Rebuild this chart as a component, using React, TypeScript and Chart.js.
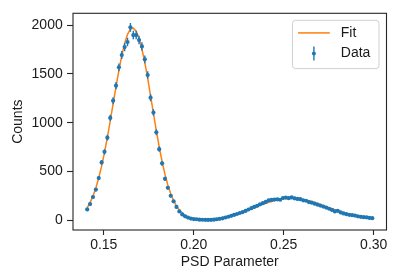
import React, { useEffect, useRef } from "react";
import { Chart, registerables } from "chart.js";

Chart.register(...registerables);

const binCenters = [
  0.1408, 0.1424, 0.1440, 0.1456, 0.1472, 0.1488, 0.1504, 0.1520, 0.1536, 0.1552,
  0.1568, 0.1584, 0.1600, 0.1616, 0.1632, 0.1648, 0.1664, 0.1680, 0.1696, 0.1712,
  0.1728, 0.1744, 0.1760, 0.1776, 0.1792, 0.1808, 0.1824, 0.1840, 0.1856, 0.1872,
  0.1888, 0.1904, 0.1920, 0.1936, 0.1952, 0.1968, 0.1984, 0.2000, 0.2016, 0.2032,
  0.2048, 0.2064, 0.2080, 0.2096, 0.2112, 0.2128, 0.2144, 0.2160, 0.2176, 0.2192,
  0.2208, 0.2224, 0.2240, 0.2256, 0.2272, 0.2288, 0.2304, 0.2320, 0.2336, 0.2352,
  0.2368, 0.2384, 0.2400, 0.2416, 0.2432, 0.2448, 0.2464, 0.2480, 0.2496, 0.2512,
  0.2528, 0.2544, 0.2560, 0.2576, 0.2592, 0.2608, 0.2624, 0.2640, 0.2656, 0.2672,
  0.2688, 0.2704, 0.2720, 0.2736, 0.2752, 0.2768, 0.2784, 0.2800, 0.2816, 0.2832,
  0.2848, 0.2864, 0.2880, 0.2896, 0.2912, 0.2928, 0.2944, 0.2960, 0.2976, 0.2992,
];

const dataCounts = [
  111, 166, 238, 314, 432, 593, 701, 846, 1049, 1225,
  1379, 1567, 1693, 1775, 1827, 1977, 1898, 1898, 1847, 1782,
  1649, 1488, 1256, 1104, 902, 728, 583, 425, 333, 251,
  194, 137, 90, 60, 40, 27, 17, 12, 10, 6,
  5, 4, 3, 4, 6, 10, 15, 20, 28, 36,
  45, 55, 64, 74, 84, 95, 110, 124, 136, 148,
  163, 175, 188, 204, 208, 212, 214, 210, 228, 232,
  226, 234, 225, 219, 216, 204, 200, 186, 180, 170,
  160, 150, 140, 130, 118, 106, 90, 97, 80, 70,
  62, 56, 52, 48, 40, 35, 31, 30, 24, 21,
];

const dataErrors = [
  10.5, 12.9, 15.4, 17.7, 20.8, 24.4, 26.5, 29.1, 32.4, 35.0,
  37.1, 39.6, 41.1, 42.1, 42.7, 44.5, 43.6, 43.6, 43.0, 42.2,
  40.6, 38.6, 35.4, 33.2, 30.0, 27.0, 24.1, 20.6, 18.2, 15.8,
  13.9, 11.7, 9.5, 7.7, 6.3, 5.2, 4.1, 3.5, 3.2, 2.4,
  2.2, 2.0, 1.7, 2.0, 2.4, 3.2, 3.9, 4.5, 5.3, 6.0,
  6.7, 7.4, 8.0, 8.6, 9.2, 9.7, 10.5, 11.1, 11.7, 12.2,
  12.8, 13.2, 13.7, 14.3, 14.4, 14.6, 14.6, 14.5, 15.1, 15.2,
  15.0, 15.3, 15.0, 14.8, 14.7, 14.3, 14.1, 13.6, 13.4, 13.0,
  12.6, 12.2, 11.8, 11.4, 10.9, 10.3, 9.5, 9.8, 8.9, 8.4,
  7.9, 7.5, 7.2, 6.9, 6.3, 5.9, 5.6, 5.5, 4.9, 4.6,
];

const fitCounts = [
  129, 181, 247, 331, 433, 554, 694, 850, 1019, 1195,
  1370, 1537, 1688, 1813, 1905, 1958, 1969, 1937, 1864, 1755,
  1615, 1456, 1275, 1095, 918, 752, 602, 470, 362, 272,
  202, 146, 104, 72, 50, 34, 24, 17, 13, 10,
  9, 10, 11, 12, 15, 19, 23, 28, 34, 41,
  48, 56, 65, 74, 84, 95, 106, 118, 129, 141,
  152, 163, 174, 184, 193, 201, 208, 214, 219, 223,
  225, 225, 224, 221, 218, 212, 206, 199, 190, 181,
  171, 161, 150, 139, 128, 117, 107, 97, 87, 77,
  69, 61, 53, 46, 40, 34, 29, 25, 21, 18,
];

const xTicks = [0.15, 0.2, 0.25, 0.3];
const xTickLabels = ["0.15", "0.20", "0.25", "0.30"];
const yTicks = [0, 500, 1000, 1500, 2000];
const yTickLabels = ["0", "500", "1000", "1500", "2000"];

const BLUE = "#1f77b4";
const ORANGE = "#ff7f0e";
const TEXT = "#1a1a1a";
const FONT = "'Liberation Sans', Arial, sans-serif";

const errorBarPlugin = {
  id: "errorBars",
  beforeDatasetDraw(chart: any, args: any) {
    if (args.index !== 0) return;
    const { ctx, scales } = chart;
    const xs = scales.x;
    const ys = scales.y;
    ctx.save();
    ctx.strokeStyle = BLUE;
    ctx.lineWidth = 1.4;
    ctx.beginPath();
    for (let i = 0; i < dataCounts.length; i++) {
      const px = xs.getPixelForValue(binCenters[i]);
      ctx.moveTo(px, ys.getPixelForValue(dataCounts[i] - dataErrors[i]));
      ctx.lineTo(px, ys.getPixelForValue(dataCounts[i] + dataErrors[i]));
    }
    ctx.stroke();
    ctx.restore();
  },
};

const framePlugin = {
  id: "frameAndLegend",
  afterDraw(chart: any) {
    const { ctx, chartArea } = chart;
    const { left, top, right, bottom } = chartArea;
    ctx.save();
    ctx.strokeStyle = "#262626";
    ctx.lineWidth = 1.1;
    ctx.strokeRect(left, top, right - left, bottom - top);

    // legend
    const lx = right - 7.5 - 86.5;
    const ly = top + 7;
    const lw = 86.5;
    const lh = 48.3;
    ctx.beginPath();
    if (ctx.roundRect) ctx.roundRect(lx, ly, lw, lh, 3);
    else ctx.rect(lx, ly, lw, lh);
    ctx.fillStyle = "rgba(255,255,255,0.8)";
    ctx.fill();
    ctx.strokeStyle = "#d0d0d0";
    ctx.lineWidth = 1;
    ctx.stroke();

    const r1 = ly + 12.6;
    const r2 = ly + 33.3;
    ctx.strokeStyle = ORANGE;
    ctx.lineWidth = 1.5;
    ctx.beginPath();
    ctx.moveTo(lx + 5.6, r1);
    ctx.lineTo(lx + 37.3, r1);
    ctx.stroke();

    const mx = lx + 21.4;
    ctx.strokeStyle = BLUE;
    ctx.lineWidth = 1.4;
    ctx.beginPath();
    ctx.moveTo(mx, r2 - 7);
    ctx.lineTo(mx, r2 + 7);
    ctx.stroke();
    ctx.fillStyle = BLUE;
    ctx.beginPath();
    ctx.arc(mx, r2, 2, 0, Math.PI * 2);
    ctx.fill();

    ctx.fillStyle = TEXT;
    ctx.font = `14px ${FONT}`;
    ctx.textBaseline = "middle";
    ctx.textAlign = "left";
    ctx.fillText("Fit", lx + 48.3, r1);
    ctx.fillText("Data", lx + 48.3, r2);
    ctx.restore();
  },
};

export default function App() {
  const ref = useRef<HTMLCanvasElement | null>(null);
  useEffect(() => {
    if (!ref.current) return;
    const chart = new Chart(ref.current, {
      type: "scatter",
      data: {
        datasets: [
          {
            label: "Data",
            data: binCenters.map((x, i) => ({ x, y: dataCounts[i] })),
            showLine: false,
            pointRadius: 2.1,
            pointBackgroundColor: BLUE,
            pointBorderWidth: 0,
            borderColor: BLUE,
            order: 0,
          },
          {
            label: "Fit",
            data: binCenters.map((x, i) => ({ x, y: fitCounts[i] })),
            showLine: true,
            pointRadius: 0,
            borderColor: ORANGE,
            borderWidth: 1.5,
            tension: 0,
            order: 1,
          },
        ],
      },
      options: {
        animation: false,
        responsive: false,
        devicePixelRatio: 1,
        layout: { padding: { left: 0, right: 20.5, top: 13.3, bottom: 0 } },
        plugins: {
          legend: { display: false },
          tooltip: { enabled: false },
        },
        scales: {
          x: {
            type: "linear",
            min: 0.1329,
            max: 0.3071,
            afterFit: (s: any) => {
              s.height = 41;
            },
            afterBuildTicks: (s: any) => {
              s.ticks = xTicks.map((v) => ({ value: v }));
            },
            ticks: {
              callback: (v: any) => xTickLabels[xTicks.indexOf(Number(v))] ?? "",
              color: TEXT,
              font: { family: FONT, size: 14 },
              padding: 2,
              maxRotation: 0,
              autoSkip: false,
            },
            grid: {
              drawOnChartArea: false,
              drawTicks: true,
              tickLength: 5,
              tickWidth: 1.1,
              tickColor: "#262626",
            },
            border: { display: false },
            title: {
              display: true,
              text: "PSD Parameter",
              color: TEXT,
              font: { family: FONT, size: 14 },
              padding: { top: 0, bottom: 0 },
            },
          },
          y: {
            type: "linear",
            min: -100,
            max: 2121,
            afterFit: (s: any) => {
              s.width = 73;
            },
            afterBuildTicks: (s: any) => {
              s.ticks = yTicks.map((v) => ({ value: v }));
            },
            ticks: {
              callback: (v: any) => yTickLabels[yTicks.indexOf(Number(v))] ?? "",
              color: TEXT,
              font: { family: FONT, size: 14 },
              padding: 4.3,
              autoSkip: false,
            },
            grid: {
              drawOnChartArea: false,
              drawTicks: true,
              tickLength: 6,
              tickWidth: 1.1,
              tickColor: "#262626",
            },
            border: { display: false },
            title: {
              display: true,
              text: "Counts",
              color: TEXT,
              font: { family: FONT, size: 14 },
              padding: { top: 10, bottom: 0 },
            },
          },
        },
      },
      plugins: [errorBarPlugin, framePlugin],
    } as any);
    return () => chart.destroy();
  }, []);

  return (
    <div style={{ position: "absolute", left: 0, top: 0, width: 407, height: 271 }}>
      <canvas ref={ref} width={407} height={271} style={{ width: 407, height: 271, display: "block" }} />
    </div>
  );
}
